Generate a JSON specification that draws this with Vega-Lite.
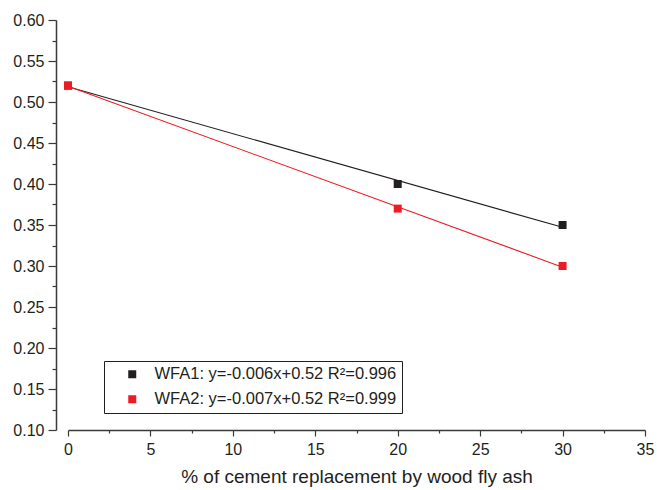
{
  "$schema": "https://vega.github.io/schema/vega-lite/v6.json",
  "width": 577,
  "height": 410,
  "autosize": {"type": "none"},
  "padding": {"left": 68, "top": 20, "right": 12, "bottom": 60},
  "background": "white",
  "config": {
    "font": "Liberation Sans",
    "view": {"stroke": null},
    "axis": {
      "domainColor": "#3a3a3a",
      "domainWidth": 1.5,
      "tickColor": "#3a3a3a",
      "tickWidth": 1.2,
      "labelColor": "#231f20",
      "titleColor": "#231f20",
      "titleFontWeight": "normal",
      "grid": false
    }
  },
  "data": {
    "values": [
      {"series": "WFA1: y=-0.006x+0.52 R²=0.996", "x": 0, "y": 0.52},
      {"series": "WFA1: y=-0.006x+0.52 R²=0.996", "x": 20, "y": 0.40},
      {"series": "WFA1: y=-0.006x+0.52 R²=0.996", "x": 30, "y": 0.35},
      {"series": "WFA2: y=-0.007x+0.52 R²=0.999", "x": 0, "y": 0.52},
      {"series": "WFA2: y=-0.007x+0.52 R²=0.999", "x": 20, "y": 0.37},
      {"series": "WFA2: y=-0.007x+0.52 R²=0.999", "x": 30, "y": 0.30}
    ]
  },
  "encoding": {
    "x": {
      "field": "x",
      "type": "quantitative",
      "scale": {"domain": [0, 35], "nice": false, "zero": false},
      "axis": {
        "title": "% of cement replacement by wood fly ash",
        "titleFontSize": 19,
        "titlePadding": 10,
        "labelFontSize": 16,
        "values": [0, 2.5, 5, 7.5, 10, 12.5, 15, 17.5, 20, 22.5, 25, 27.5, 30, 32.5, 35],
        "labelExpr": "datum.value % 5 == 0 ? format(datum.value, 'd') : ''",
        "tickSize": {"condition": {"test": "datum.value % 5 == 0", "value": 6}, "value": 3},
        "labelPadding": 5,
        "labelFlush": false
      }
    },
    "y": {
      "field": "y",
      "type": "quantitative",
      "scale": {"domain": [0.1, 0.6], "nice": false, "zero": false},
      "axis": {
        "title": null,
        "offset": 12,
        "labelFontSize": 16,
        "values": [0.1, 0.125, 0.15, 0.175, 0.2, 0.225, 0.25, 0.275, 0.3, 0.325, 0.35, 0.375, 0.4, 0.425, 0.45, 0.475, 0.5, 0.525, 0.55, 0.575, 0.6],
        "labelExpr": "round(datum.value * 1000) % 50 == 0 ? format(datum.value, '.2f') : ''",
        "tickSize": {"condition": {"test": "round(datum.value * 1000) % 50 == 0", "value": 8}, "value": 4},
        "labelPadding": 4,
        "labelFlush": false
      }
    }
  },
  "layer": [
    {
      "transform": [{"regression": "y", "on": "x", "groupby": ["series"]}],
      "mark": {"type": "line", "strokeWidth": 1.1},
      "encoding": {
        "stroke": {
          "field": "series",
          "type": "nominal",
          "scale": {"range": ["#231f20", "#ed1c24"]},
          "legend": null
        }
      }
    },
    {
      "mark": {"type": "point", "shape": "square", "filled": true, "opacity": 1, "size": 64},
      "encoding": {
        "color": {
          "field": "series",
          "type": "nominal",
          "scale": {"range": ["#231f20", "#ed1c24"]},
          "legend": {
            "title": null,
            "orient": "none",
            "legendX": 36,
            "legendY": 341,
            "strokeColor": "#231f20",
            "fillColor": "white",
            "padding": 5,
            "labelFontSize": 16.5,
            "labelColor": "#231f20",
            "symbolType": "square",
            "symbolSize": 64,
            "symbolOffset": 15,
            "labelOffset": 14,
            "rowPadding": 8,
            "labelLimit": 400
          }
        }
      }
    }
  ]
}
